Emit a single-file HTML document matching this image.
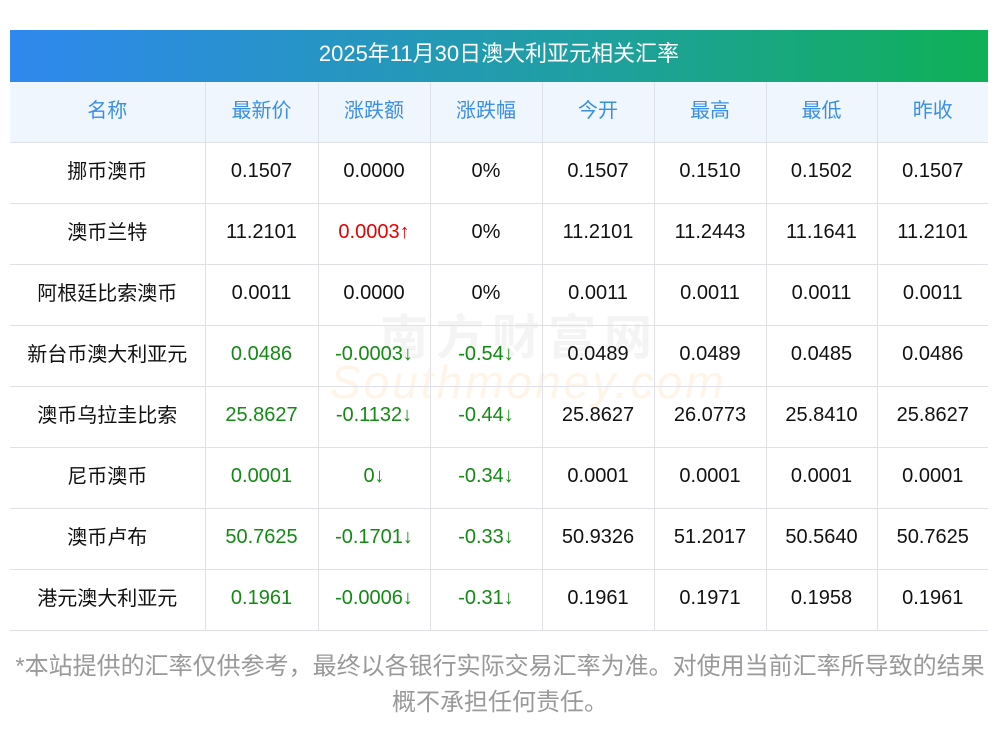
<!DOCTYPE html><html><head><meta charset="utf-8"><style>
body{margin:0;width:1000px;height:733px;background:#fff;font-family:"Liberation Sans","Noto Sans CJK SC",sans-serif;position:relative;overflow:hidden}
.title{position:absolute;left:10px;top:30px;width:978px;height:52px;background:linear-gradient(90deg,#2f88ee,#1fa0a0 60%,#0fb056);color:#fff;font-size:22px;line-height:48px;text-align:center}
table{position:absolute;left:10px;top:82px;width:978px;border-collapse:collapse;table-layout:fixed}
td,th{height:61px;border-bottom:1px solid #dfe1ea;border-left:1px solid #dfe1ea;text-align:center;font-size:20px;font-weight:normal;color:#111;padding:0 0 3px 0;box-sizing:border-box}
tr td:first-child,tr th:first-child{border-left:none;padding-bottom:6px}
th{height:60px;background:#f0f6fe;color:#3a8ee6;padding-bottom:7px}
tr th:first-child{padding-bottom:7px}
.r{color:#e60000}.g{color:#138a13}
.wm{position:absolute;left:380px;top:298px;font-size:48px;color:rgba(200,200,200,0.2);font-weight:bold;letter-spacing:8px}
.wm2{position:absolute;left:330px;top:355px;font-size:46px;font-style:italic;color:rgba(250,200,140,0.2);letter-spacing:3px}
.foot{position:absolute;left:0;top:649px;width:1000px;text-align:center;font-size:24px;line-height:36px;color:#999;white-space:nowrap}
</style></head><body>
<div class="title">2025年11月30日澳大利亚元相关汇率</div>
<div class="wm">南方财富网</div><div class="wm2">Southmoney.com</div>
<table>
<colgroup><col style="width:195px"><col style="width:113px"><col style="width:112px"><col style="width:112px"><col style="width:112px"><col style="width:112px"><col style="width:111px"><col style="width:111px"></colgroup>
<tr><th>名称</th><th>最新价</th><th>涨跌额</th><th>涨跌幅</th><th>今开</th><th>最高</th><th>最低</th><th>昨收</th></tr>
<tr><td>挪币澳币</td><td>0.1507</td><td>0.0000</td><td>0%</td><td>0.1507</td><td>0.1510</td><td>0.1502</td><td>0.1507</td></tr>
<tr><td>澳币兰特</td><td>11.2101</td><td class="r">0.0003↑</td><td>0%</td><td>11.2101</td><td>11.2443</td><td>11.1641</td><td>11.2101</td></tr>
<tr><td>阿根廷比索澳币</td><td>0.0011</td><td>0.0000</td><td>0%</td><td>0.0011</td><td>0.0011</td><td>0.0011</td><td>0.0011</td></tr>
<tr><td>新台币澳大利亚元</td><td class="g">0.0486</td><td class="g">-0.0003↓</td><td class="g">-0.54↓</td><td>0.0489</td><td>0.0489</td><td>0.0485</td><td>0.0486</td></tr>
<tr><td>澳币乌拉圭比索</td><td class="g">25.8627</td><td class="g">-0.1132↓</td><td class="g">-0.44↓</td><td>25.8627</td><td>26.0773</td><td>25.8410</td><td>25.8627</td></tr>
<tr><td>尼币澳币</td><td class="g">0.0001</td><td class="g">0↓</td><td class="g">-0.34↓</td><td>0.0001</td><td>0.0001</td><td>0.0001</td><td>0.0001</td></tr>
<tr><td>澳币卢布</td><td class="g">50.7625</td><td class="g">-0.1701↓</td><td class="g">-0.33↓</td><td>50.9326</td><td>51.2017</td><td>50.5640</td><td>50.7625</td></tr>
<tr><td>港元澳大利亚元</td><td class="g">0.1961</td><td class="g">-0.0006↓</td><td class="g">-0.31↓</td><td>0.1961</td><td>0.1971</td><td>0.1958</td><td>0.1961</td></tr>
</table>
<div class="foot">*本站提供的汇率仅供参考，最终以各银行实际交易汇率为准。对使用当前汇率所导致的结果<br>概不承担任何责任。</div>
</body></html>
